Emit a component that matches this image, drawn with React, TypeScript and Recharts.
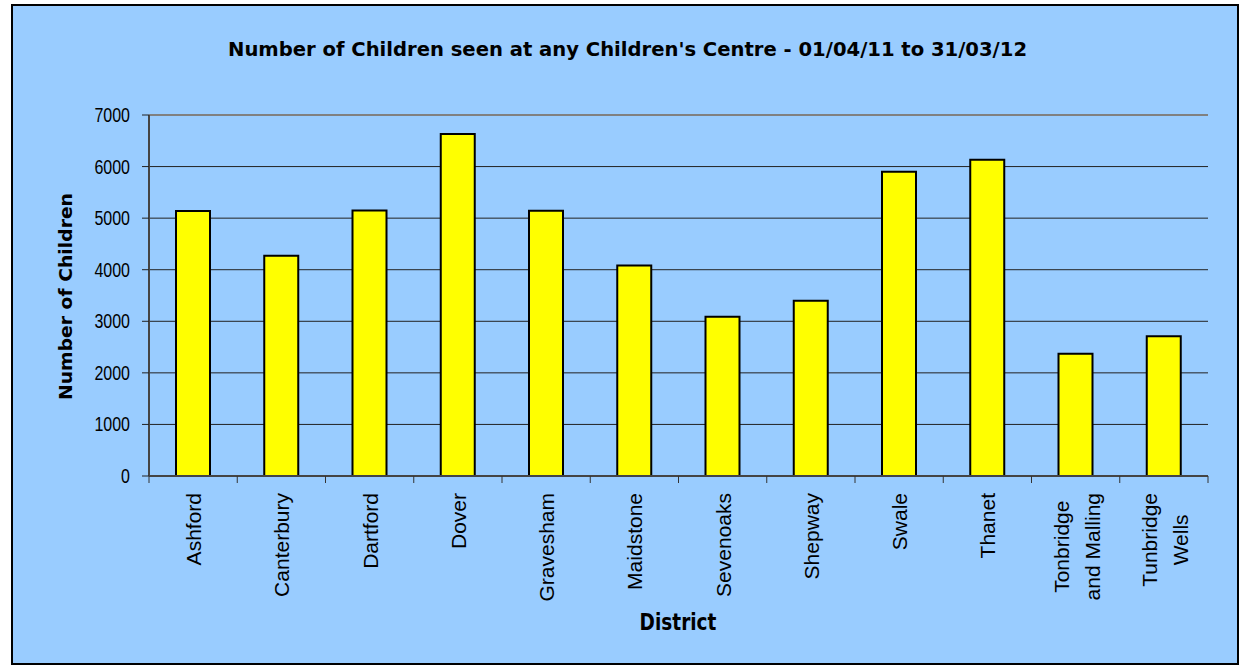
import React from "react";
import {
  BarChart,
  Bar,
  XAxis,
  YAxis,
  CartesianGrid,
  ReferenceLine,
} from "recharts";

const districts = [
  "Ashford",
  "Canterbury",
  "Dartford",
  "Dover",
  "Gravesham",
  "Maidstone",
  "Sevenoaks",
  "Shepway",
  "Swale",
  "Thanet",
  "Tonbridge and Malling",
  "Tunbridge Wells",
];
const childrenSeen = [5140, 4270, 5150, 6630, 5145, 4080, 3090, 3400, 5900, 6130, 2370, 2710];
const yTicks = [0, 1000, 2000, 3000, 4000, 5000, 6000, 7000];
// how the long district names wrap under the axis
const wrapped: Record<string, string[]> = {
  "Tonbridge and Malling": ["Tonbridge", "and Malling"],
  "Tunbridge Wells": ["Tunbridge", "Wells"],
};

const title = "Number of Children seen at any Children's Centre - 01/04/11 to 31/03/12";
const yTitle = "Number of Children";
const xTitle = "District";

const data = districts.map((d, i) => ({ district: d, value: childrenSeen[i] }));

const W = 1243;
const H = 668;
const PLOT_LEFT = 149;
const PLOT_RIGHT = 1208;
const PLOT_TOP = 115;
const PLOT_BOTTOM = 476;
const Y_AXIS_W = 60;
const X_AXIS_H = 150;
const BAND = (PLOT_RIGHT - PLOT_LEFT) / districts.length;

const LABEL_FONT = "Liberation Sans, Arial, sans-serif";
const BOLD_FONT = "DejaVu Sans, Verdana, sans-serif";

let ctx: CanvasRenderingContext2D | null = null;
const measure = (s: string, font: string) => {
  if (!ctx) ctx = document.createElement("canvas").getContext("2d");
  if (!ctx) return s.length * 10;
  ctx.font = font;
  return ctx.measureText(s).width;
};

const YTick = (props: any) => {
  const { x, y, payload } = props;
  return (
    <text
      transform={`translate(${x},${y}) scale(1,1.22)`}
      textAnchor="end"
      dy="0.355em"
      fontSize={16}
      fontFamily={LABEL_FONT}
      fill="#000"
    >
      {payload.value}
    </text>
  );
};

const XTick = (props: any) => {
  const { x, y, payload, index } = props;
  const lines = wrapped[payload.value] || [payload.value];
  const left = x - BAND / 2;
  const top = y + 17;
  let labels;
  if (lines.length === 1) {
    labels = (
      <text
        transform={`translate(${x + 8},${top}) rotate(-90)`}
        textAnchor="end"
        fontSize={21}
        fontFamily={LABEL_FONT}
        fill="#000"
      >
        {lines[0]}
      </text>
    );
  } else {
    const longest = Math.max(...lines.map((l: string) => measure(l, `21px ${LABEL_FONT}`)));
    const mid = top + longest / 2;
    labels = lines.map((l: string, i: number) => (
      <text
        key={l}
        transform={`translate(${x - 7 + i * 31},${mid}) rotate(-90)`}
        textAnchor="middle"
        fontSize={21}
        fontFamily={LABEL_FONT}
        fill="#000"
      >
        {l}
      </text>
    ));
  }
  return (
    <g>
      <line x1={left} x2={left} y1={y} y2={y + 7} stroke="#333" />
      {index === districts.length - 1 && (
        <line x1={left + BAND} x2={left + BAND} y1={y} y2={y + 7} stroke="#333" />
      )}
      {labels}
    </g>
  );
};

export default function App() {
  return (
    <div style={{ position: "absolute", left: 0, top: 0, width: W, height: H, background: "#fff" }}>
      <div
        style={{
          position: "absolute",
          left: 11,
          top: 4,
          width: 1228,
          height: 661,
          border: "2px solid #000",
          boxSizing: "border-box",
          background: "#99CCFF",
        }}
      />
      <div style={{ position: "absolute", left: 0, top: 0 }}>
        <BarChart
          width={W}
          height={H}
          data={data}
          margin={{
            top: PLOT_TOP,
            right: W - PLOT_RIGHT,
            left: PLOT_LEFT - Y_AXIS_W,
            bottom: H - PLOT_BOTTOM - X_AXIS_H,
          }}
        >
          <CartesianGrid vertical={false} stroke="#222" />
          <XAxis
            dataKey="district"
            interval={0}
            height={X_AXIS_H}
            tickSize={0}
            tickMargin={0}
            tickLine={false}
            axisLine={{ stroke: "#444", strokeWidth: 2 }}
            tick={<XTick />}
          />
          <YAxis
            domain={[0, 7000]}
            ticks={yTicks}
            width={Y_AXIS_W}
            tickSize={7}
            tickMargin={12}
            tickLine={{ stroke: "#222" }}
            axisLine={{ stroke: "#444", strokeWidth: 2 }}
            tick={<YTick />}
          />
          <YAxis
            yAxisId="frame"
            orientation="right"
            width={0}
            tick={false}
            tickLine={false}
            axisLine={{ stroke: "#808080", strokeWidth: 2 }}
          />
          <ReferenceLine y={7000} stroke="#808080" strokeWidth={2} />
          <Bar
            dataKey="value"
            fill="#FFFF00"
            stroke="#000"
            strokeWidth={2}
            barSize={34}
            isAnimationActive={false}
          />
          <text
            transform="translate(627.5,56) scale(1,1.2)"
            textAnchor="middle"
            fontSize={16}
            fontWeight="bold"
            fontFamily={BOLD_FONT}
            textLength={799}
            lengthAdjust="spacingAndGlyphs"
            fill="#000"
          >
            {title}
          </text>
          <text
            transform="translate(72,296.5) rotate(-90)"
            textAnchor="middle"
            fontSize={17}
            fontWeight="bold"
            fontFamily={BOLD_FONT}
            textLength={207}
            lengthAdjust="spacingAndGlyphs"
            fill="#000"
          >
            {yTitle}
          </text>
          <text
            transform="translate(678,630) scale(1,1.2)"
            textAnchor="middle"
            fontSize={18.5}
            fontWeight="bold"
            fontFamily={BOLD_FONT}
            fill="#000"
          >
            {xTitle}
          </text>
        </BarChart>
      </div>
    </div>
  );
}
